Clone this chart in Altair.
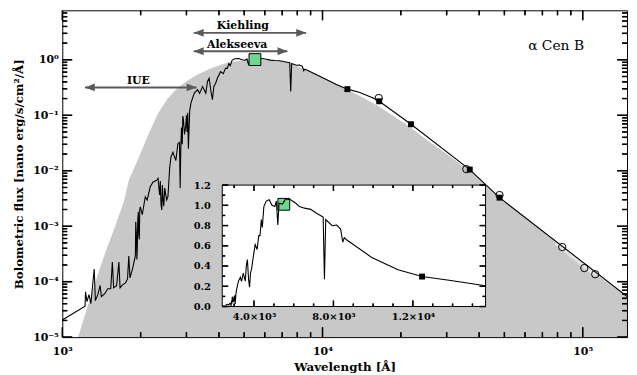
import altair as alt
import pandas as pd

# ---------------- data ----------------
# observed spectrum (with short extrapolation at the blue end), wavelength [Å], flux [nano erg/s/cm2/Å]
spec_wl = [1000, 1223, 1228, 1244, 1266, 1288, 1326, 1340, 1369, 1398,
           1413, 1456, 1495, 1535, 1557, 1575, 1617, 1650, 1667, 1704,
           1750, 1781, 1801, 1820, 1860, 1909, 1915, 1925, 1935, 1942,
           1950, 1960, 1968, 1977, 1985, 1994, 2029, 2084, 2120, 2177,
           2234, 2307, 2334, 2365, 2380, 2395, 2411, 2425, 2439, 2455,
           2475, 2518, 2547, 2585, 2615, 2661, 2732, 2780, 2821, 2837,
           2853, 2870, 2890, 2904, 2920, 2950, 2981, 3000, 3015, 3034,
           3052, 3087, 3122, 3217, 3311, 3370, 3459, 3560, 3614, 3667,
           3726, 3775, 3824, 3885, 3943, 4058, 4155, 4239, 4303, 4368,
           4418, 4496, 4614, 4766, 4905, 5048, 5124, 5200, 5260, 5433,
           5592, 5844, 6105, 6284, 6546, 6855, 7144, 7482, 7547, 7612,
           7933, 8166, 8360, 8470, 8545, 8658]
spec_flux = [2.03e-5, 3.61e-5, 6.59e-5, 4.37e-5, 5.82e-5, 4.03e-5, 1.69e-4, 4.55e-5, 5.82e-5, 8.53e-5,
             5.37e-5, 6.07e-5, 7.45e-5, 7.45e-5, 2.25e-4, 7.76e-5, 8.42e-5, 2.25e-4, 7.76e-5, 8.77e-5,
             9.52e-5, 1.12e-4, 2.91e-4, 1.17e-4, 1.69e-4, 2.91e-4, 1.2e-3, 7.69e-4, 2.5e-4, 3.84e-4,
             1.3e-3, 1.82e-3, 7.0e-4, 5.78e-4, 2.0e-3, 2.23e-3, 1.61e-3, 3.40e-3, 2.97e-3, 5.13e-3,
             6.29e-3, 6.75e-3, 7.32e-3, 3.65e-3, 6.5e-3, 2.5e-3, 1.97e-3, 5.5e-3, 2.97e-3, 2.3e-3,
             4.86e-3, 2.97e-3, 3.40e-3, 0.01103, 0.01754, 0.02153, 0.01531, 0.03073, 0.03243, 4.86e-3,
             0.02307, 0.06, 0.03, 0.0968, 0.085, 0.045, 0.0643, 0.1, 0.05, 0.1108,
             0.02505, 0.1188, 0.1669, 0.2514, 0.2890, 0.2483, 0.3309, 0.2514, 0.4063, 0.4648,
             0.2697, 0.1918, 0.3309, 0.3787, 0.4648, 0.6115, 0.5636, 0.7002, 0.7002, 0.8594,
             0.782, 0.9878, 1.042, 1.055, 1.0, 0.988, 1.042, 0.805, 1.02, 1.012,
             1.063, 1.055, 1.02, 0.988, 0.972, 0.960, 0.921, 0.884, 0.2697, 0.859,
             0.798, 0.805, 0.766, 0.637, 0.68, 0.66]
# model continuation to the infrared
tail_wl = [9930, 11254, 12462, 13910, 15650, 16520, 21880, 36800, 47900, 148000]
tail_flux = [0.485, 0.364, 0.296, 0.257, 0.205, 0.179, 0.0689, 0.0105, 0.00327, 5.4e-5]

# blackbody (grey area)
bb_wl = [1101, 1147, 1233, 1326, 1447, 1579, 1723, 1801, 1960, 2139,
         2334, 2547, 2780, 3034, 3311, 3775, 4303, 4905, 5592, 6378,
         7268, 7933, 9447, 11250, 12497, 14245, 16430, 19010, 21990, 25430,
         29420, 34050, 38230, 47860, 62940, 83440, 109100, 148200]
bb_flux = [4.2e-6, 9.6e-6, 2.87e-5, 8.53e-5, 2.91e-4, 8.7e-4, 2.77e-3, 6.75e-3, 0.0166, 0.0444,
           0.109, 0.202, 0.318, 0.423, 0.541, 0.721, 0.884, 0.98, 1.02, 1.0,
           0.921, 0.78, 0.552, 0.374, 0.2866, 0.2108, 0.1458, 0.0929, 0.0585, 0.0348,
           0.02153, 0.013, 8.88e-3, 3.27e-3, 1.21e-3, 4.21e-4, 1.52e-4, 5.3e-5]

# photometry
sq_wl = [12462, 16520, 21880, 36800, 47900]
sq_flux = [0.296, 0.179, 0.0689, 0.0105, 0.00327]
circ_wl = [16450, 35700, 47900, 83400, 101400, 111700]
circ_flux = [0.205, 0.0107, 0.00365, 4.21e-4, 1.76e-4, 1.36e-4]
band_wl = [79000, 112000]
band_flux = [5.0e-4, 1.30e-4]
v_wl = [5500]
v_flux = [1.01]

# coverage arrows
arrow_names = ["IUE", "Alekseeva", "Kiehling"]
arrow_start = [1222, 3200, 3200]
arrow_end = [3280, 7330, 8650]
arrow_flux = [0.318, 1.43, 3.06]
arrow_label_wl = [1960, 4700, 4940]
arrow_label_flux = [0.418, 1.83, 4.14]

star_name = ["α Cen B"]
star_wl = [79000]
star_flux = [1.78]

# axes
x_major = [1e3, 1e4, 1e5]
x_major_labels = ["10³", "10⁴", "10⁵"]
y_major = [1e-5, 1e-4, 1e-3, 1e-2, 1e-1, 1e0]
y_major_labels = ["10⁻⁵", "10⁻⁴", "10⁻³", "10⁻²", "10⁻¹", "10⁰"]
inset_x_ticks = [4000, 8000, 12000]
inset_x_labels = ["4.0×10³", "8.0×10³", "1.2×10⁴"]
inset_y_ticks = [0.0, 0.2, 0.4, 0.6, 0.8, 1.0, 1.2]
inset_y_labels = ["0.0", "0.2", "0.4", "0.6", "0.8", "1.0", "1.2"]

# ---------------- layout ----------------
W, H = 572, 331
FONT = "DejaVu Serif"
X_DOMAIN = [1000, 148000]
Y_DOMAIN = [1e-5, 7.8]
INSET_X = [2400, 15660]
INSET_Y = [0.0, 1.2]
INSET_XR = [162, 428.7]
INSET_YR = [300, 177]
GREY = "#c8c8c8"
ARROW = "#5a5a5a"

x_minor = [k * 10.0 ** e for e in (3, 4) for k in range(2, 10)]
y_minor = [k * 10.0 ** e for e in range(-5, 1) for k in range(2, 10) if k * 10.0 ** e < Y_DOMAIN[1]]
ix_minor = [float(v) for v in range(3000, 15001, 1000) if v % 4000]
iy_minor = [0.1, 0.3, 0.5, 0.7, 0.9, 1.1]

XM = alt.Scale(type="log", domain=X_DOMAIN, nice=False)
YM = alt.Scale(type="log", domain=Y_DOMAIN, nice=False)
XI = alt.Scale(type="linear", domain=INSET_X, range=INSET_XR, nice=False, zero=False)
YI = alt.Scale(type="linear", domain=INSET_Y, range=INSET_YR, nice=False, zero=False)


def ternary(values, labels):
    expr = "''"
    for v, l in reversed(list(zip(values, labels))):
        tol = abs(v) * 1e-6 + 1e-9
        expr = f"abs(datum.value - {v!r}) <= {tol!r} ? '{l}' : ({expr})"
    return expr


def label_axis(orient, offset, values, labels, title=None, fs=11, pad=5,
               title_pad=4):
    return alt.Axis(orient=orient, offset=offset, values=values,
                    labelExpr=ternary(values, labels), ticks=False, tickSize=0,
                    domain=False, grid=False, title=title,
                    titleFont=FONT, titleFontWeight="bold", titleFontSize=12,
                    titleColor="black", titlePadding=title_pad,
                    labelFont=FONT, labelFontWeight="bold", labelFontSize=fs,
                    labelPadding=pad, labelColor="black", labelOverlap=False,
                    labelFlush=False, zindex=1)


def step(v, px, dom, span, log):
    """Move a domain value by px pixels along an axis of span pixels."""
    if log:
        return v * (dom[1] / dom[0]) ** (px / span)
    return v + (dom[1] - dom[0]) * px / span


def tick_segments(xdom, ydom, xspan, yspan, xlog, ylog, xvals, yvals, lengths, tag):
    """Inward tick marks on all four sides, as (x0, y0, x1, y1, id) segments."""
    segs = []
    for vals, ln in zip((xvals[0], xvals[1]), lengths):
        for v in vals:
            segs.append((v, ydom[0], v, step(ydom[0], ln, ydom, yspan, ylog)))
            segs.append((v, ydom[1], v, step(ydom[1], -ln, ydom, yspan, ylog)))
    for vals, ln in zip((yvals[0], yvals[1]), lengths):
        for v in vals:
            segs.append((xdom[0], v, step(xdom[0], ln, xdom, xspan, xlog), v))
            segs.append((xdom[1], v, step(xdom[1], -ln, xdom, xspan, xlog), v))
    return [(a, b, c, d, f"{tag}{i}") for i, (a, b, c, d) in enumerate(segs)]


main_segs = tick_segments(X_DOMAIN, Y_DOMAIN, W, H, True, True,
                          (x_major, x_minor), (y_major, y_minor), (10, 5), "m")
inset_segs = tick_segments(INSET_X, INSET_Y, INSET_XR[1] - INSET_XR[0],
                           INSET_YR[0] - INSET_YR[1], False, False,
                           (inset_x_ticks, ix_minor), (inset_y_ticks, iy_minor), (6, 3), "i")


def seg_points(segs):
    rows = []
    for x0, y0, x1, y1, sid in segs:
        rows.append((x0, y0, sid))
        rows.append((x1, y1, sid))
    return rows


# ---------------- data frames ----------------
df_bb = pd.DataFrame({"wl": bb_wl, "flux": bb_flux})
line_wl = spec_wl + tail_wl
line_flux = spec_flux + tail_flux
df_line = pd.DataFrame({"wl": line_wl, "flux": line_flux, "seg": "spec"})
df_line_main = pd.concat([df_line, pd.DataFrame(seg_points(main_segs),
                                                columns=["wl", "flux", "seg"])],
                         ignore_index=True)
df_line_inset = pd.concat([
    df_line[(df_line.wl >= INSET_X[0]) & (df_line.wl <= INSET_X[1])],
    pd.DataFrame(seg_points(inset_segs), columns=["wl", "flux", "seg"])],
    ignore_index=True)
df_mticks = pd.DataFrame(main_segs, columns=["x0", "y0", "x1", "y1", "sid"])
df_iticks = pd.DataFrame(inset_segs, columns=["x0", "y0", "x1", "y1", "sid"])
df_sq = pd.DataFrame({"wl": sq_wl, "flux": sq_flux})
df_circ = pd.DataFrame({"wl": circ_wl, "flux": circ_flux})
df_band = pd.DataFrame({"wl": band_wl, "flux": band_flux})
df_v = pd.DataFrame({"wl": v_wl, "flux": v_flux})
df_arr = pd.DataFrame({"name": arrow_names, "start": arrow_start, "end": arrow_end,
                       "flux": arrow_flux, "lx": arrow_label_wl, "ly": arrow_label_flux})
df_star = pd.DataFrame({"name": star_name, "wl": star_wl, "flux": star_flux})
df_box = pd.DataFrame({"x0": [INSET_X[0]], "x1": [INSET_X[1]],
                       "y0": [INSET_Y[0]], "y1": [INSET_Y[1]]})


def xm(field):
    return alt.X(field, scale=XM, axis=None)


def ym(field):
    return alt.Y(field, scale=YM, axis=None)


def xi(field):
    return alt.X(field, scale=XI, axis=None)


def yi(field):
    return alt.Y(field, scale=YI, axis=None)


# ---------------- main panel ----------------
gray = alt.Chart(df_bb).mark_area(color=GREY, clip=True).encode(
    x=alt.X("wl:Q", scale=XM,
            axis=label_axis("bottom", 0, x_major, x_major_labels,
                            title="Wavelength [Å]", pad=8.5, title_pad=5)),
    y=alt.Y("flux:Q", scale=YM,
            axis=label_axis("left", 0, y_major, y_major_labels,
                            title="Bolometric flux [nano erg/s/cm²/Å]", pad=4, title_pad=7)),
    y2=alt.Y2(datum=1e-6),
)

main_tick_rules = alt.Chart(df_mticks).mark_rule(color="black", strokeWidth=1.5).encode(
    x=xm("x0:Q"), x2="x1:Q", y=ym("y0:Q"), y2="y1:Q", detail="sid:N")

band = alt.Chart(df_band).mark_line(color="#e2e2e2", strokeWidth=4, clip=True).encode(
    x=xm("wl:Q"), y=ym("flux:Q"))

line = alt.Chart(df_line_main).mark_line(color="black", strokeWidth=1.1, clip=True).encode(
    x=xm("wl:Q"), y=ym("flux:Q"), detail="seg:N")

squares = alt.Chart(df_sq).mark_point(shape="square", filled=True, size=36,
                                      color="black", opacity=1).encode(
    x=xm("wl:Q"), y=ym("flux:Q"))

circles = alt.Chart(df_circ).mark_point(shape="circle", filled=False, size=55,
                                        color="black", strokeWidth=1, opacity=1).encode(
    x=xm("wl:Q"), y=ym("flux:Q"))

vbox = alt.Chart(df_v).mark_point(shape="square", filled=True, size=144, fill="#6fd890",
                                  stroke="black", strokeWidth=1, opacity=1).encode(
    x=xm("wl:Q"), y=ym("flux:Q"))

rules = alt.Chart(df_arr).mark_rule(color=ARROW, strokeWidth=2).encode(
    x=xm("start:Q"), x2="end:Q", y=ym("flux:Q"))

head_l = alt.Chart(df_arr).mark_point(shape="M0,0L2,-0.8L2,0.8Z", filled=True, size=100,
                                      color=ARROW, opacity=1).encode(
    x=xm("start:Q"), y=ym("flux:Q"))

head_r = alt.Chart(df_arr).mark_point(shape="M0,0L-2,-0.8L-2,0.8Z", filled=True, size=100,
                                      color=ARROW, opacity=1).encode(
    x=xm("end:Q"), y=ym("flux:Q"))

arr_text = alt.Chart(df_arr).mark_text(font=FONT, fontWeight="bold", fontSize=11,
                                       color="black", baseline="middle").encode(
    x=xm("lx:Q"), y=ym("ly:Q"), text="name:N")

star_text = alt.Chart(df_star).mark_text(font=FONT, fontSize=14, color="black",
                                         baseline="middle").encode(
    x=xm("wl:Q"), y=ym("flux:Q"), text="name:N")

main = alt.layer(gray, main_tick_rules, band, line, squares, circles, vbox, rules,
                 head_l, head_r, arr_text, star_text).resolve_axis(x="independent", y="independent")

# ---------------- inset ----------------
inset_box = alt.Chart(df_box).mark_rect(fill="white", stroke="black", strokeWidth=1).encode(
    x=alt.X("x0:Q", scale=XI,
            axis=label_axis("bottom", -(H - INSET_YR[0]), inset_x_ticks, inset_x_labels,
                            fs=10, pad=5)),
    x2="x1:Q",
    y=alt.Y("y0:Q", scale=YI,
            axis=label_axis("left", -INSET_XR[0], inset_y_ticks, inset_y_labels,
                            fs=10, pad=12)),
    y2="y1:Q",
)

inset_tick_rules = alt.Chart(df_iticks).mark_rule(color="black", strokeWidth=1.5).encode(
    x=xi("x0:Q"), x2="x1:Q", y=yi("y0:Q"), y2="y1:Q", detail="sid:N")

inset_v = alt.Chart(df_v).mark_point(shape="square", filled=True, size=144, fill="#6fd890",
                                     stroke="black", strokeWidth=1, opacity=1).encode(
    x=xi("wl:Q"), y=yi("flux:Q"))

inset_line = alt.Chart(df_line_inset).mark_line(color="black", strokeWidth=1.1).encode(
    x=xi("wl:Q"), y=yi("flux:Q"), detail="seg:N")

inset_sq = alt.Chart(df_sq).transform_filter(alt.datum.wl <= INSET_X[1]).mark_point(
    shape="square", filled=True, size=36, color="black", opacity=1).encode(
    x=xi("wl:Q"), y=yi("flux:Q"))

inset = alt.layer(inset_box, inset_tick_rules, inset_v, inset_line, inset_sq).resolve_axis(
    x="independent", y="independent")

chart = alt.layer(main, inset).resolve_scale(
    x="independent", y="independent"
).properties(
    width=W, height=H,
    padding={"left": 55, "top": 0, "right": 2, "bottom": 36},
    autosize=alt.AutoSizeParams(type="none"),
).configure_view(stroke="black", strokeWidth=1)

chart.save("out.html", embed_options={"renderer": "svg", "actions": False})
